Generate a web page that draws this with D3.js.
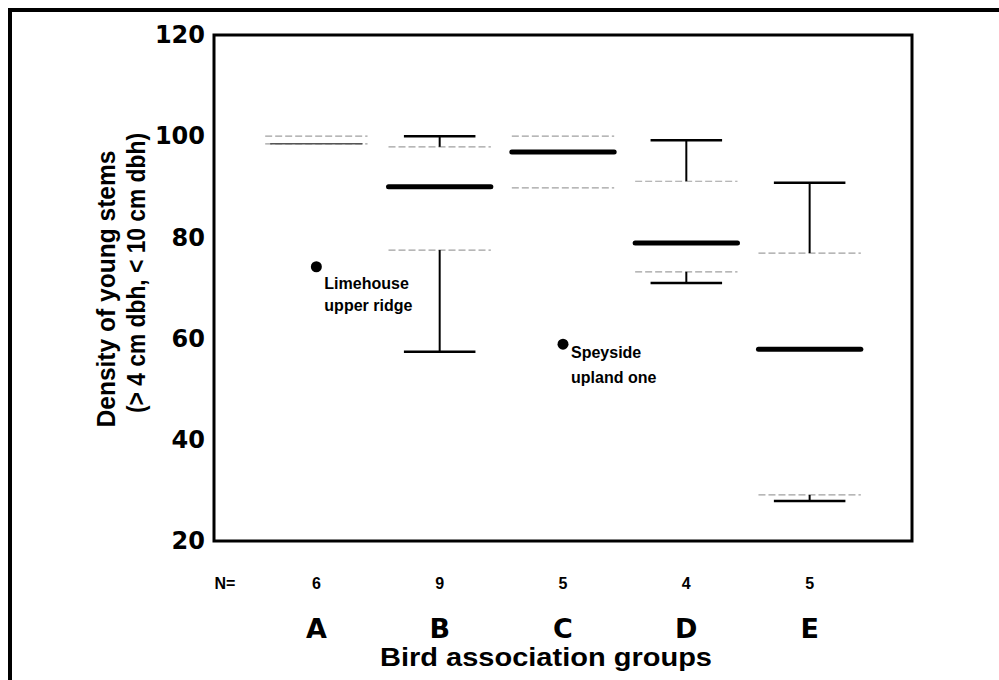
<!DOCTYPE html>
<html>
<head>
<meta charset="utf-8">
<script src="https://cdn.jsdelivr.net/npm/d3@7"></script>
<style>
  html, body { margin: 0; padding: 0; background: #fff; }
  svg { display: block; }
  text { font-family: "Liberation Sans", Arial, sans-serif; fill: #000; }
</style>
</head>
<body>
<svg id="chart" width="999" height="680"></svg>
<script>
// ---- data ----
const categories = ["A", "B", "C", "D", "E"];
const nValues = [6, 9, 5, 4, 5];
const mins    = [98.5, 57.4, 89.8, 71.0, 27.9];
const q1s     = [98.5, 77.5, 89.8, 73.2, 29.1];
const medians = [98.5, 90.0, 96.9, 78.9, 57.9];
const q3s     = [100.0, 97.9, 100.0, 91.1, 76.9];
const maxs    = [100.0, 100.0, 100.0, 99.2, 90.8];
const outlierGroups = ["A", "C"];
const outlierValues = [74.2, 58.9];
const outlierLabels = [["Limehouse", "upper ridge"], ["Speyside", "upland one"]];
const yTicks = [20, 40, 60, 80, 100, 120];

(function () {
// ---- layout ----
const svg = d3.select("#chart");
const mLeft = 214, mRight = 912, mTop = 35, mBottom = 541;
const labelOffsets = [{dx: 8, dy: 22, lh: 22}, {dx: 8, dy: 14, lh: 25}];

const x = d3.scalePoint().domain(categories).range([mLeft, mRight]).padding(0.83);
const y = d3.scaleLinear().domain([20, 120]).range([mBottom, mTop]);
const step = x.step();
const boxW = step * 0.83;
const capW = step * 0.58;

// outer frame
svg.append("path")
  .attr("d", "M10,690 L10,10 L1010,10")
  .attr("fill", "none").attr("stroke", "#000").attr("stroke-width", 4);

// plot frame
svg.append("rect")
  .attr("x", mLeft).attr("y", mTop).attr("width", mRight - mLeft).attr("height", mBottom - mTop)
  .attr("fill", "none").attr("stroke", "#000").attr("stroke-width", 3);

// y axis labels
const yAxis = d3.axisLeft(y).tickValues(yTicks).tickSize(0).tickPadding(9).tickFormat(d3.format("d"));
const gy = svg.append("g").attr("transform", `translate(${mLeft},0)`).call(yAxis);
gy.select(".domain").remove();
gy.selectAll("text").attr("font-size", 24).attr("font-weight", "bold")
  .style("font-family", '"DejaVu Sans", sans-serif').attr("fill", "#000");

// y axis title
svg.append("text").attr("transform", "translate(115,289) rotate(-90)")
  .attr("text-anchor", "middle").attr("font-size", 25).attr("font-weight", "bold")
  .attr("textLength", 277).attr("lengthAdjust", "spacingAndGlyphs")
  .text("Density of young stems");
svg.append("text").attr("transform", "translate(145,273) rotate(-90)")
  .attr("text-anchor", "middle").attr("font-size", 25).attr("font-weight", "bold")
  .attr("textLength", 280).attr("lengthAdjust", "spacingAndGlyphs")
  .text("(> 4 cm dbh, < 10 cm dbh)");

// boxes
const groups = svg.append("g").selectAll("g").data(categories).join("g")
  .attr("transform", d => `translate(${x(d)},0)`);

groups.each(function(d, i) {
  const g = d3.select(this);
  [q1s[i], q3s[i]].forEach(v => {
    g.append("line").attr("x1", -boxW / 2).attr("x2", boxW / 2)
      .attr("y1", y(v)).attr("y2", y(v))
      .attr("stroke", "#a0a0a0").attr("stroke-width", 1.2).attr("stroke-dasharray", "7,3");
  });
  if (maxs[i] > q3s[i]) {
    g.append("line").attr("x1", 0).attr("x2", 0).attr("y1", y(q3s[i])).attr("y2", y(maxs[i]))
      .attr("stroke", "#000").attr("stroke-width", 2);
    g.append("line").attr("x1", -capW / 2).attr("x2", capW / 2).attr("y1", y(maxs[i])).attr("y2", y(maxs[i]))
      .attr("stroke", "#000").attr("stroke-width", 2.5);
  }
  if (mins[i] < q1s[i]) {
    g.append("line").attr("x1", 0).attr("x2", 0).attr("y1", y(q1s[i])).attr("y2", y(mins[i]))
      .attr("stroke", "#000").attr("stroke-width", 2);
    g.append("line").attr("x1", -capW / 2).attr("x2", capW / 2).attr("y1", y(mins[i])).attr("y2", y(mins[i]))
      .attr("stroke", "#000").attr("stroke-width", 2.5);
  }
  const flat = medians[i] === q1s[i] || medians[i] === q3s[i];
  g.append("line").attr("x1", -boxW / 2 + (flat ? 5 : 0)).attr("x2", boxW / 2 - (flat ? 5 : 0))
    .attr("y1", y(medians[i])).attr("y2", y(medians[i]))
    .attr("stroke", flat ? "#555" : "#000").attr("stroke-width", flat ? 1.5 : 5)
    .attr("stroke-linecap", flat ? "butt" : "round");
});

// outliers
outlierGroups.forEach((grp, k) => {
  const cx = x(grp), cy = y(outlierValues[k]);
  const o = labelOffsets[k];
  svg.append("circle").attr("cx", cx).attr("cy", cy).attr("r", 5.5).attr("fill", "#000");
  const t = svg.append("text").attr("x", cx + o.dx).attr("y", cy + o.dy)
    .attr("font-size", 16).attr("font-weight", "bold");
  outlierLabels[k].forEach((s, j) => {
    t.append("tspan").attr("x", cx + o.dx).attr("dy", j === 0 ? 0 : o.lh).text(s);
  });
});

// N row
svg.append("text").attr("x", 225).attr("y", 589).attr("text-anchor", "middle")
  .attr("font-size", 16).attr("font-weight", "bold").text("N=");
svg.append("g").selectAll("text").data(categories).join("text")
  .attr("x", d => x(d)).attr("y", 589).attr("text-anchor", "middle")
  .attr("font-size", 16).attr("font-weight", "bold")
  .text((d, i) => nValues[i]);

// category letters
svg.append("g").selectAll("text").data(categories).join("text")
  .attr("x", d => x(d)).attr("y", 638).attr("text-anchor", "middle")
  .attr("font-size", 27).attr("font-weight", "bold")
  .style("font-family", '"DejaVu Sans", sans-serif')
  .text(d => d);

// x title
svg.append("text").attr("x", 546).attr("y", 666).attr("text-anchor", "middle")
  .attr("font-size", 26).attr("font-weight", "bold")
  .attr("textLength", 332).attr("lengthAdjust", "spacingAndGlyphs")
  .text("Bird association groups");
})();
</script>
</body>
</html>
